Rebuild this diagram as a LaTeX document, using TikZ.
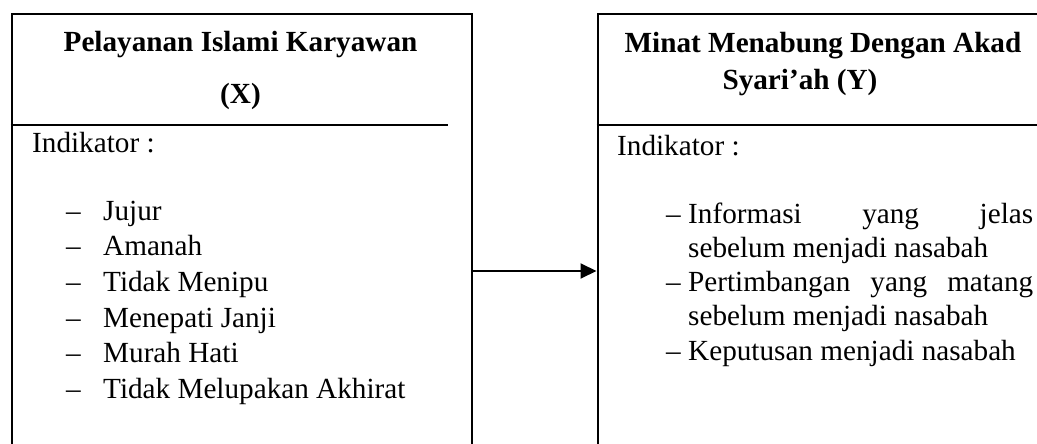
\documentclass[tikz,border=0pt]{standalone}
\usepackage{fontspec}
\setmainfont{Liberation Serif}
\usetikzlibrary{arrows.meta}
\begin{document}
\begin{tikzpicture}[x=1pt,y=-1pt,
  boxframe/.style={draw=black,line width=2pt,inner sep=0pt,minimum height=513pt,anchor=north west},
  rule/.style={draw=black,line width=2pt},
  ttl/.style={inner sep=0pt,anchor=base,font=\fontsize{29.2pt}{34pt}\selectfont\bfseries},
  txt/.style={inner sep=0pt,anchor=base west,font=\fontsize{29.2pt}{34pt}\selectfont},
  dashmark/.style={inner sep=0pt,anchor=base west,font=\fontsize{29.2pt}{34pt}\selectfont},
  link/.style={draw=black,line width=2pt,-{Triangle[length=16pt,width=15pt]}}]
\useasboundingbox (0,0) rectangle (1037,444);
\clip (0,0) rectangle (1037,444);
% boxes
\node[boxframe,minimum width=460.5pt] (X) at (10.5,13.5) {};
\node[boxframe,minimum width=470pt] (Y) at (596.5,13.5) {};
% dividers
\coordinate (xr) at (448,125);
\coordinate (yr) at (1040,125);
\draw[rule] (X.west |- xr) -- (xr);
\draw[rule] (Y.west |- yr) -- (yr);
% titles
\node[ttl] (xt1) at (240.5,52) {Pelayanan Islami Karyawan};
\node[ttl] (xt2) at (240.5,103) {(X)};
\node[ttl] (yt1) at (823,53) {Minat Menabung Dengan Akad};
\node[ttl] (yt2) at (800,90) {Syari’ah (Y)};
% left content
\node[txt] (xi) at (32,152) {Indikator :};
\foreach \yy/\t [count=\i] in {220/Jujur,255/Amanah,291/Tidak Menipu,327/Menepati Janji,362/Murah Hati,398/Tidak Melupakan Akhirat}{
  \node[dashmark] (xd\i) at (66,\yy) {–};
  \node[txt] (xl\i) at (103,\yy) {\t};
}
% right content
\node[txt] (yi) at (617,155) {Indikator :};
\node[dashmark] (yd1) at (666,223) {–};
\node[txt] (yl1) at (688,223) {\makebox[345pt][s]{Informasi yang jelas}};
\node[txt] (yl2) at (688,257) {sebelum menjadi nasabah};
\node[dashmark] (yd2) at (666,291) {–};
\node[txt] (yl3) at (688,291) {\makebox[345pt][s]{Pertimbangan yang matang}};
\node[txt] (yl4) at (688,325) {sebelum menjadi nasabah};
\node[dashmark] (yd3) at (666,360) {–};
\node[txt] (yl5) at (688,360) {Keputusan menjadi nasabah};
% connector
\draw[link] (X.east) -- (Y.west);
\end{tikzpicture}
\end{document}
